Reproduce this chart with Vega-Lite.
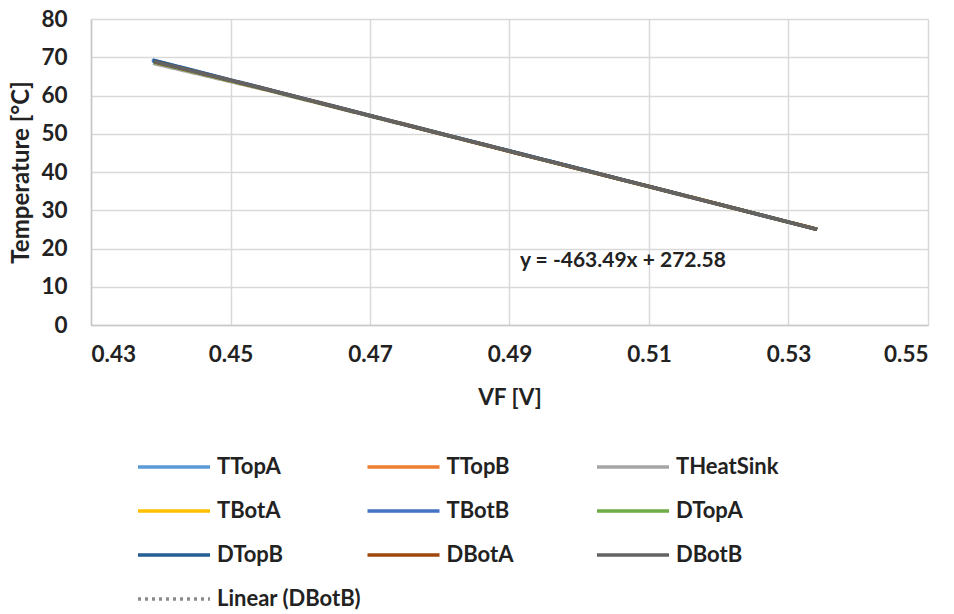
{
  "$schema": "https://vega.github.io/schema/vega-lite/v6.json",
  "width": 837,
  "height": 306,
  "autosize": {"type": "none"},
  "padding": {"left": 91, "top": 19, "right": 26, "bottom": 289},
  "background": "white",
  "config": {
    "view": {"stroke": null},
    "font": "Lato",
    "axis": {
      "labelFont": "Lato", "labelFontSize": 22.5, "labelFontWeight": "bold", "labelColor": "#222",
      "titleFont": "Lato", "titleFontSize": 22.5, "titleFontWeight": "bold", "titleColor": "#222",
      "gridColor": "#d9d9d9", "gridWidth": 1.5, "domainColor": "#c8c8c8", "domainWidth": 1.5,
      "ticks": false, "tickSize": 0, "labelOverlap": false
    },
    "legend": {
      "labelFont": "Lato", "labelFontSize": 22, "labelFontWeight": "bold", "labelColor": "#222",
      "labelLimit": 300
    }
  },
  "datasets": {
    "lines": [
      {"s": "TTopA", "x": 0.4388, "y": 69.3}, {"s": "TTopA", "x": 0.455, "y": 61.8}, {"s": "TTopA", "x": 0.475, "y": 52.5}, {"s": "TTopA", "x": 0.495, "y": 43.2}, {"s": "TTopA", "x": 0.515, "y": 33.9}, {"s": "TTopA", "x": 0.5341, "y": 25.0},
      {"s": "TTopB", "x": 0.4390, "y": 69.0}, {"s": "TTopB", "x": 0.455, "y": 61.7}, {"s": "TTopB", "x": 0.475, "y": 52.4}, {"s": "TTopB", "x": 0.495, "y": 43.1}, {"s": "TTopB", "x": 0.515, "y": 33.9}, {"s": "TTopB", "x": 0.5341, "y": 25.0},
      {"s": "THeatSink", "x": 0.4389, "y": 68.4}, {"s": "THeatSink", "x": 0.455, "y": 61.5}, {"s": "THeatSink", "x": 0.475, "y": 52.3}, {"s": "THeatSink", "x": 0.495, "y": 43.1}, {"s": "THeatSink", "x": 0.515, "y": 33.8}, {"s": "THeatSink", "x": 0.5341, "y": 25.0},
      {"s": "TBotA", "x": 0.4391, "y": 68.8}, {"s": "TBotA", "x": 0.455, "y": 61.6}, {"s": "TBotA", "x": 0.475, "y": 52.4}, {"s": "TBotA", "x": 0.495, "y": 43.1}, {"s": "TBotA", "x": 0.515, "y": 33.9}, {"s": "TBotA", "x": 0.5341, "y": 25.0},
      {"s": "TBotB", "x": 0.4388, "y": 69.1}, {"s": "TBotB", "x": 0.455, "y": 61.7}, {"s": "TBotB", "x": 0.475, "y": 52.4}, {"s": "TBotB", "x": 0.495, "y": 43.2}, {"s": "TBotB", "x": 0.515, "y": 33.9}, {"s": "TBotB", "x": 0.5341, "y": 25.0},
      {"s": "DTopA", "x": 0.4390, "y": 68.7}, {"s": "DTopA", "x": 0.455, "y": 61.6}, {"s": "DTopA", "x": 0.475, "y": 52.4}, {"s": "DTopA", "x": 0.495, "y": 43.1}, {"s": "DTopA", "x": 0.515, "y": 33.9}, {"s": "DTopA", "x": 0.5341, "y": 25.0},
      {"s": "DTopB", "x": 0.4389, "y": 69.2}, {"s": "DTopB", "x": 0.455, "y": 61.7}, {"s": "DTopB", "x": 0.475, "y": 52.4}, {"s": "DTopB", "x": 0.495, "y": 43.2}, {"s": "DTopB", "x": 0.515, "y": 33.9}, {"s": "DTopB", "x": 0.5341, "y": 25.0},
      {"s": "DBotA", "x": 0.4391, "y": 68.8}, {"s": "DBotA", "x": 0.455, "y": 61.7}, {"s": "DBotA", "x": 0.475, "y": 52.4}, {"s": "DBotA", "x": 0.495, "y": 43.1}, {"s": "DBotA", "x": 0.515, "y": 33.9}, {"s": "DBotA", "x": 0.5341, "y": 25.0},
      {"s": "DBotB", "x": 0.4390, "y": 68.9}, {"s": "DBotB", "x": 0.455, "y": 61.7}, {"s": "DBotB", "x": 0.475, "y": 52.4}, {"s": "DBotB", "x": 0.495, "y": 43.1}, {"s": "DBotB", "x": 0.515, "y": 33.9}, {"s": "DBotB", "x": 0.5341, "y": 25.0}
    ],
    "trend": [
      {"s": "Linear (DBotB)", "x": 0.4387, "y": 69.25},
      {"s": "Linear (DBotB)", "x": 0.5341, "y": 25.03}
    ],
    "label": [
      {"x": 0.4915, "y": 16.7, "t": "y = -463.49x + 272.58"}
    ]
  },
  "encoding": {
    "x": {
      "field": "x", "type": "quantitative",
      "scale": {"domain": [0.43, 0.55], "nice": false, "zero": false},
      "axis": {
        "title": "VF [V]", "values": [0.43, 0.45, 0.47, 0.49, 0.51, 0.53, 0.55],
        "format": ".2f", "labelPadding": 18, "titlePadding": 21, "grid": true
      }
    },
    "y": {
      "field": "y", "type": "quantitative",
      "scale": {"domain": [0, 80], "nice": false},
      "axis": {
        "title": "Temperature [°C]", "values": [0, 10, 20, 30, 40, 50, 60, 70, 80],
        "labelPadding": 24, "titlePadding": 7, "titleFontSize": 24, "grid": true
      }
    }
  },
  "layer": [
    {
      "data": {"name": "trend"},
      "mark": {"type": "line", "strokeWidth": 2.5},
      "encoding": {
        "color": {"field": "s", "type": "nominal"},
        "strokeDash": {"field": "s", "type": "nominal"}
      }
    },
    {
      "data": {"name": "lines"},
      "mark": {"type": "line", "strokeWidth": 3.5},
      "encoding": {
        "color": {
          "field": "s", "type": "nominal",
          "scale": {
            "domain": ["TTopA", "TTopB", "THeatSink", "TBotA", "TBotB", "DTopA", "DTopB", "DBotA", "DBotB", "Linear (DBotB)"],
            "range": ["#5B9BD5", "#ED7D31", "#A5A5A5", "#FFC000", "#4472C4", "#70AD47", "#255E91", "#9E480E", "#636363", "#8c8c8c"]
          },
          "legend": {
            "title": null, "orient": "none", "direction": "horizontal", "legendX": 63, "legendY": 428,
            "columns": 3, "gridAlign": "all", "columnPadding": -1.5, "rowPadding": 13,
            "symbolType": "M-2,0L2,0", "symbolSize": 1296, "symbolStrokeWidth": 3.5,
            "labelOffset": 23, "padding": 0
          }
        },
        "strokeDash": {
          "field": "s", "type": "nominal",
          "scale": {
            "domain": ["TTopA", "TTopB", "THeatSink", "TBotA", "TBotB", "DTopA", "DTopB", "DBotA", "DBotB", "Linear (DBotB)"],
            "range": [[1, 0], [1, 0], [1, 0], [1, 0], [1, 0], [1, 0], [1, 0], [1, 0], [1, 0], [3, 4]]
          },
          "legend": {
            "title": null, "orient": "none", "direction": "horizontal", "legendX": 63, "legendY": 428,
            "columns": 3, "gridAlign": "all", "columnPadding": -1.5, "rowPadding": 13,
            "symbolType": "M-2,0L2,0", "symbolSize": 1296, "symbolStrokeWidth": 3.5,
            "labelOffset": 23, "padding": 0
          }
        }
      }
    },
    {
      "data": {"name": "label"},
      "mark": {"type": "text", "align": "left", "baseline": "middle", "font": "Lato", "fontSize": 21, "fontWeight": "bold", "color": "#222"},
      "encoding": {
        "text": {"field": "t"}
      }
    }
  ]
}
